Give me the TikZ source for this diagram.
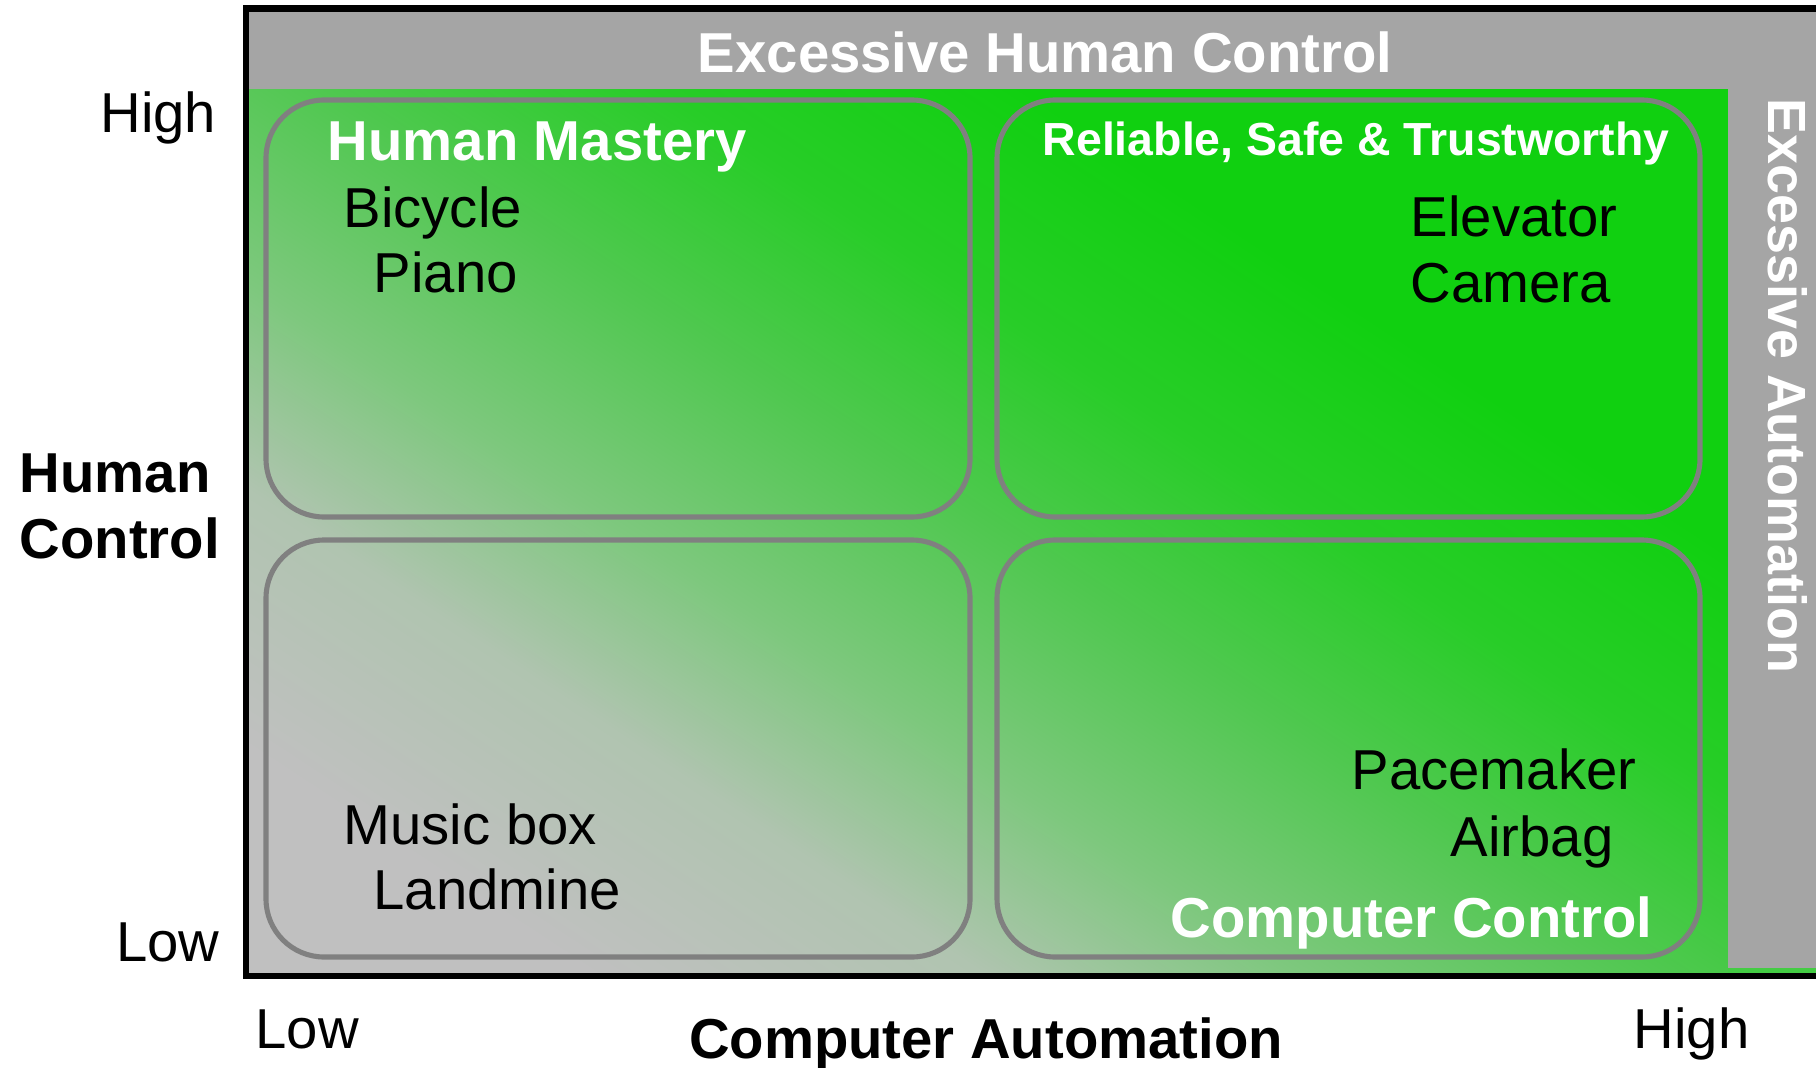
\documentclass[tikz,border=0pt]{standalone}
\usepackage{fontspec}
\setmainfont{Liberation Sans}
\usetikzlibrary{positioning}

\definecolor{bandgray}{RGB}{165,165,165}
\definecolor{boxgray}{RGB}{128,128,128}
\definecolor{lowgray}{RGB}{192,192,192}
\definecolor{paleG}{RGB}{176,196,176}
\definecolor{softG}{RGB}{126,200,126}
\definecolor{midG}{RGB}{80,200,80}
\definecolor{strongG}{RGB}{40,205,40}
\definecolor{highgreen}{RGB}{16,208,16}
\definecolor{edgeG}{RGB}{68,204,68}

\pgfdeclarehorizontalshading{automation}{100bp}{color(0bp)=(lowgray); color(31bp)=(lowgray); color(38bp)=(paleG); color(43.5bp)=(softG); color(50bp)=(midG); color(56bp)=(strongG); color(62.5bp)=(highgreen); color(100bp)=(highgreen)}

\begin{document}
\begin{tikzpicture}[x=0.01cm, y=-0.01cm,
    quadbox/.style={draw=boxgray, line width=1.45pt, rounded corners=0.58cm},
    itemtext/.style={anchor=base west, inner sep=0pt, font=\fontsize{16}{19}\selectfont},
    titletext/.style={anchor=base west, inner sep=0pt, text=white, font=\fontsize{16}{19}\selectfont\bfseries},
    axistext/.style={inner sep=0pt, font=\fontsize{16}{19}\selectfont},
]
    \useasboundingbox (0,0) rectangle (1816,1067);
    % background: gray (low/low) to green (high/high), sheared onto the field
    \begin{scope}
        \clip (249,89) rectangle (1728,973);
        \begin{scope}[transform canvas={cm={28.236,0,-13.445,8.84,(2.49cm,-9.73cm)}}]
            \shade[shading=automation] (0cm,0cm) rectangle (1cm,1cm);
        \end{scope}
    \end{scope}
    \fill[edgeG] (1728,960) rectangle (1816,973);
    \fill[bandgray] (249,11) rectangle (1816,89);
    \fill[bandgray] (1728,11) rectangle (1816,968);
    \draw[line width=1.8pt] (1816,8.5) -- (246,8.5) -- (246,976) -- (1816,976);
    % quadrants
    \draw[quadbox] (266,100) rectangle (970,517);
    \draw[quadbox] (997,100) rectangle (1700,517);
    \draw[quadbox] (266,540) rectangle (970,957);
    \draw[quadbox] (997,540) rectangle (1700,957);
    % nodes
    \node[titletext, anchor=base] (ehc) at (1045,73) {Excessive Human Control};
    \node[titletext, anchor=center, rotate=-90, font=\fontsize{15.3}{18}\selectfont\bfseries] (ea) at (1788,386) {Excessive Automation};
    \node[titletext] (hm) at (327,161) {Human Mastery};
    \node[itemtext]  (bicycle) at (343,228) {Bicycle};
    \node[itemtext]  (piano) at (373,293) {Piano};
    \node[titletext, font=\fontsize{13.2}{16}\selectfont\bfseries] (rst) at (1042,156) {Reliable, Safe \& Trustworthy};
    \node[itemtext]  (elevator) at (1410,237) {Elevator};
    \node[itemtext]  (camera) at (1410,303) {Camera};
    \node[itemtext]  (musicbox) at (343,844) {Music box};
    \node[itemtext]  (landmine) at (373,909) {Landmine};
    \node[itemtext]  (pacemaker) at (1351,789) {Pacemaker};
    \node[itemtext]  (airbag) at (1450,856) {Airbag};
    \node[titletext] (cc) at (1170,937) {Computer Control};
    % axes
    \node[axistext, anchor=base east] (yhigh) at (217,133) {High};
    \node[axistext, anchor=base east] (ylow) at (220,961) {Low};
    \node[axistext, anchor=base west, font=\fontsize{16}{19}\selectfont\bfseries] (yhuman) at (19,492) {Human};
    \node[axistext, anchor=base west, font=\fontsize{16}{19}\selectfont\bfseries] (ycontrol) at (19,558) {Control};
    \node[axistext, anchor=base west] (xlow) at (255,1048) {Low};
    \node[axistext, anchor=base west] (xhigh) at (1633,1048) {High};
    \node[axistext, anchor=base, font=\fontsize{16}{19}\selectfont\bfseries] (xlabel) at (986,1058) {Computer Automation};
\end{tikzpicture}
\end{document}
